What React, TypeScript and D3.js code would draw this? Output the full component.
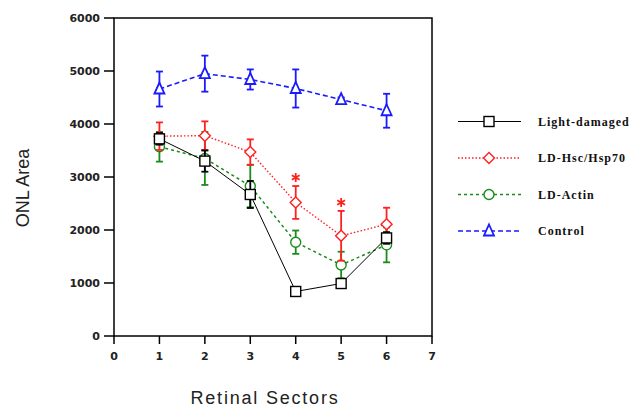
import React from "react";
import * as d3 from "d3";

const sectors = [1, 2, 3, 4, 5, 6];
const seriesNames = ["Control", "LD-Actin", "LD-Hsc/Hsp70", "Light-damaged"];
const controlMean = [4660, 4950, 4840, 4670, 4460, 4250];
const controlErr = [330, 340, 190, 360, 40, 320];
const actinMean = [3570, 3350, 2830, 1770, 1340, 1720];
const actinErr = [280, 500, 400, 220, 250, 330];
const hscMean = [3770, 3780, 3470, 2520, 1890, 2110];
const hscErr = [260, 270, 240, 310, 470, 310];
const ldMean = [3720, 3300, 2670, 840, 990, 1850];
const ldErr = [110, 200, 255, 50, 60, 110];
const starSectors = [4, 5];
const starValues = [2990, 2520];
const xTicks = [0, 1, 2, 3, 4, 5, 6, 7];
const yTicks = [0, 1000, 2000, 3000, 4000, 5000, 6000];
const legendOrder = ["Light-damaged", "LD-Hsc/Hsp70", "LD-Actin", "Control"];

type Shape = "square" | "diamond" | "circle" | "triangle";
const styles: Record<string, { color: string; dash: string; width: number; shape: Shape; mean: number[]; err: number[] }> = {
  Control: { color: "#1a1aff", dash: "5,3", width: 1.6, shape: "triangle", mean: controlMean, err: controlErr },
  "LD-Actin": { color: "#1a8c1a", dash: "3,3", width: 1.5, shape: "circle", mean: actinMean, err: actinErr },
  "LD-Hsc/Hsp70": { color: "#ff2020", dash: "1.5,2", width: 1.4, shape: "diamond", mean: hscMean, err: hscErr },
  "Light-damaged": { color: "#000000", dash: "", width: 1, shape: "square", mean: ldMean, err: ldErr },
};

function Marker({ shape, x, y, color }: { shape: Shape; x: number; y: number; color: string }) {
  const common = { fill: "white", stroke: color, strokeWidth: 1.4 };
  if (shape === "square") return <rect x={x - 5} y={y - 5} width={10} height={10} {...common} />;
  if (shape === "diamond") return <path d={`M${x},${y - 5.5}L${x + 5.5},${y}L${x},${y + 5.5}L${x - 5.5},${y}Z`} {...common} />;
  if (shape === "circle") return <circle cx={x} cy={y} r={5} {...common} />;
  return <path d={`M${x},${y - 6.5}L${x + 5},${y + 4.5}L${x - 5},${y + 4.5}Z`} {...common} strokeWidth={1.8} />;
}

function Star({ x, y, color }: { x: number; y: number; color: string }) {
  const r = 4.5;
  const arms = [90, 30, -30].map((a) => {
    const rad = (a * Math.PI) / 180;
    const dx = r * Math.cos(rad), dy = r * Math.sin(rad);
    return `M${x - dx},${y - dy}L${x + dx},${y + dy}`;
  });
  return <path d={arms.join("")} stroke={color} strokeWidth={1.8} fill="none" />;
}

export default function App() {
  const W = 639, H = 407;
  const x = d3.scaleLinear().domain([0, 7]).range([114, 432]);
  const y = d3.scaleLinear().domain([0, 6000]).range([336, 18]);
  const line = d3.line<number>().x((_, i) => x(sectors[i])).y((d) => y(d));
  const axisFont = "'DejaVu Sans', sans-serif";
  return (
    <svg width={W} height={H} style={{ position: "absolute", left: 0, top: 0, background: "white" }}>
      <rect x={x(0)} y={y(6000)} width={x(7) - x(0)} height={y(0) - y(6000)} fill="none" stroke="#000" strokeWidth={1.5} />
      {yTicks.map((t) => (
        <g key={"y" + t}>
          <line x1={x(0) - 10} x2={x(0)} y1={y(t)} y2={y(t)} stroke="#000" strokeWidth={1.5} />
          <text x={x(0) - 14} y={y(t)} dy="0.35em" textAnchor="end" fontSize={11} fontFamily={axisFont} fontWeight="bold" fill="#222">{t}</text>
        </g>
      ))}
      {xTicks.map((t) => (
        <g key={"x" + t}>
          <line x1={x(t)} x2={x(t)} y1={y(0)} y2={y(0) + 8} stroke="#000" strokeWidth={1.5} />
          <text x={x(t)} y={y(0) + 20} dy="0.35em" textAnchor="middle" fontSize={11} fontFamily={axisFont} fontWeight="bold" fill="#222">{t}</text>
        </g>
      ))}
      <text x={265} y={398} dy="0.35em" textAnchor="middle" fontSize={18} letterSpacing={1.8} fontFamily="'Liberation Sans', sans-serif" fill="#222">Retinal Sectors</text>
      <text transform={`translate(23,188) rotate(-90)`} textAnchor="middle" dy="0.35em" fontSize={18} fontFamily="'Liberation Sans', sans-serif" fill="#222">ONL Area</text>
      {seriesNames.map((name) => {
        const s = styles[name];
        return (
          <g key={name}>
            {s.mean.map((m, i) => {
              const cx = x(sectors[i]);
              const top = y(m + s.err[i]);
              const bot = y(m - s.err[i]);
              return (
                <g key={i} stroke={s.color} strokeWidth={1.8}>
                  <line x1={cx} x2={cx} y1={top} y2={bot} />
                  <line x1={cx - 3.5} x2={cx + 3.5} y1={top} y2={top} />
                  <line x1={cx - 3.5} x2={cx + 3.5} y1={bot} y2={bot} />
                </g>
              );
            })}
            <path d={line(s.mean) || ""} fill="none" stroke={s.color} strokeWidth={s.width} strokeDasharray={s.dash} />
            {s.mean.map((m, i) => (
              <Marker key={"m" + i} shape={s.shape} x={x(sectors[i])} y={y(m)} color={s.color} />
            ))}
          </g>
        );
      })}
      {starSectors.map((sx, i) => (
        <Star key={"s" + i} x={x(sx)} y={y(starValues[i])} color="#ff2020" />
      ))}
      {legendOrder.map((name, i) => {
        const s = styles[name];
        const ly = 121.5 + i * 36.5;
        return (
          <g key={"l" + name}>
            <line x1={458} x2={521} y1={ly} y2={ly} stroke={s.color} strokeWidth={s.width} strokeDasharray={s.dash} />
            <Marker shape={s.shape} x={489} y={ly} color={s.color} />
            <text x={538} y={ly} dy="0.35em" fontSize={12} letterSpacing={1} fontWeight="bold" fontFamily="'Liberation Serif', serif" fill="#111">{name}</text>
          </g>
        );
      })}
    </svg>
  );
}
